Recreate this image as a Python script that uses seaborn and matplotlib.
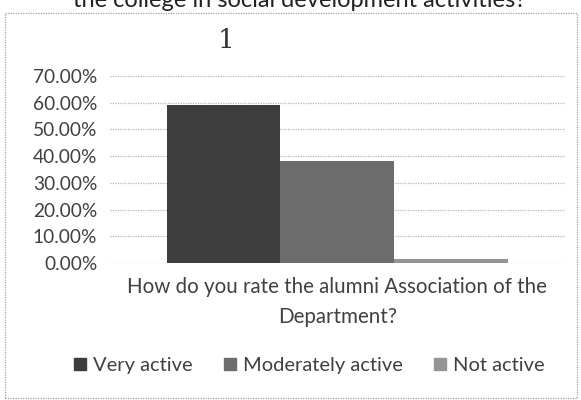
import numpy as np
import matplotlib
matplotlib.use("Agg")
import matplotlib.pyplot as plt
import pandas as pd
import seaborn as sns
from matplotlib.patches import Rectangle
from matplotlib.ticker import FuncFormatter

# data
question = ["How do you rate the alumni Association of the\nDepartment?"]
responses = ["Very active", "Moderately active", "Not active"]
shares = [0.59, 0.383, 0.016]
bar_colors = ["#3d3d3d", "#6c6c6c", "#959595"]
y_ticks = [0.0, 0.1, 0.2, 0.3, 0.4, 0.5, 0.6, 0.7]

df = pd.DataFrame({"question": question * len(responses),
                   "response": responses,
                   "share": shares})

sns.set_style("white")
plt.rcParams["font.family"] = ["Lato", "DejaVu Sans"]

fig = plt.figure(figsize=(5.81, 4.0), dpi=100)
ax = fig.add_axes([0.189, 0.3425, 0.783, 0.4675])

sns.barplot(data=df, x="question", y="share", hue="response",
            hue_order=responses, palette=bar_colors, width=0.75,
            saturation=1, linewidth=0, ax=ax, legend=False)

ax.set_ylim(0, 0.7)
ax.set_yticks(y_ticks)
ax.yaxis.set_major_formatter(FuncFormatter(lambda v, p: "%.2f%%" % (v * 100)))
ax.tick_params(axis="y", length=0, labelsize=13.8, labelcolor="#404040", pad=9)
ax.tick_params(axis="x", length=0, labelsize=14.8, labelcolor="#404040", pad=10)
ax.set_xlabel("")
ax.set_ylabel("")
for s in ax.spines.values():
    s.set_visible(False)
ax.set_axisbelow(True)
ax.yaxis.grid(True, color="#b5b5b5", linestyle=(0, (1, 1)), linewidth=0.9)
for t in ax.get_xticklabels():
    t.set_linespacing(1.65)

# chart title
fig.text(0.39, 0.9, "1", ha="center", va="center", fontsize=19,
         family="DejaVu Serif", color="#333333")

# question text cut by the top of the scan
fig.text(0.516, 0.982, "the college in social development activities?",
         ha="center", va="baseline", fontsize=17, color="#222222")

# dotted chart border
fig.patches.append(Rectangle((0.009, 0.005), 0.984, 0.962, transform=fig.transFigure,
                             fill=False, edgecolor="#a0a0a0", linestyle=(0, (1, 1)),
                             linewidth=0.9))

handles = [plt.Line2D([], [], marker="s", linestyle="", markersize=9,
                      markerfacecolor=c, markeredgecolor=c) for c in bar_colors]
fig.legend(handles, responses, loc="center", bbox_to_anchor=(0.53, 0.087), ncol=3,
           frameon=False, fontsize=14.5, handletextpad=0.2, handlelength=0.9,
           columnspacing=1.4, labelcolor="#404040")

fig.savefig("out.png", dpi=100)
